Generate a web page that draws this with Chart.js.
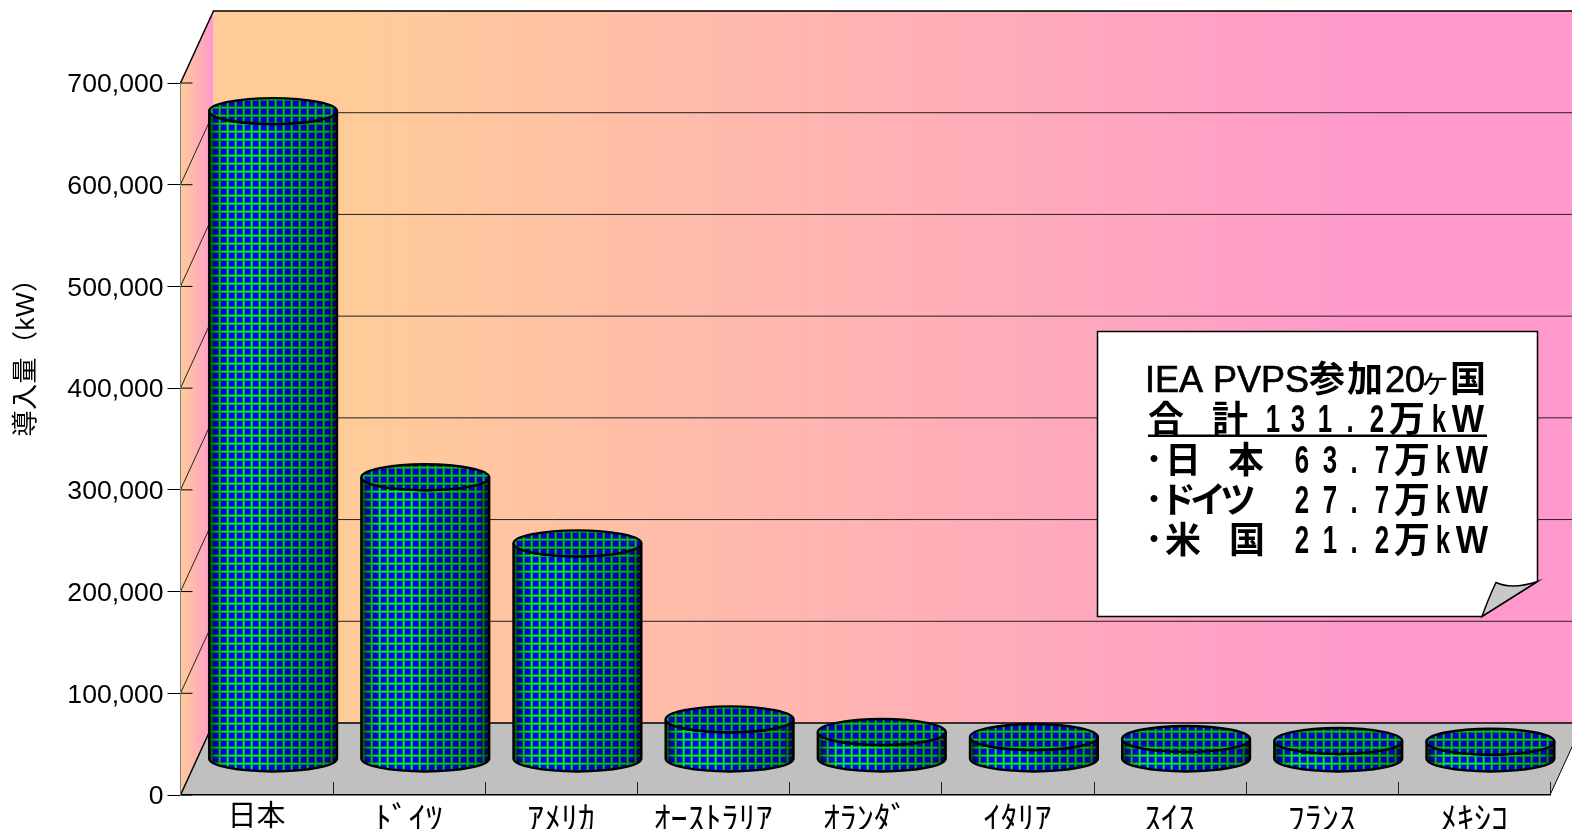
<!DOCTYPE html>
<html lang="ja">
<head>
<meta charset="utf-8">
<title>導入量</title>
<script src="https://cdn.jsdelivr.net/npm/chart.js@4"></script>
<style>
  html, body { margin: 0; padding: 0; background: #fff; overflow: hidden; }
  canvas { display: block; }
</style>
</head>
<body>
<canvas id="chart" width="1572" height="829"></canvas>
<script>
const categories = ['日本', 'ﾄﾞｲﾂ', 'ｱﾒﾘｶ', 'ｵｰｽﾄﾗﾘｱ', 'ｵﾗﾝﾀﾞ', 'ｲﾀﾘｱ', 'ｽｲｽ', 'ﾌﾗﾝｽ', 'ﾒｷｼｺ'];
const installed  = [637000, 277000, 212000, 39000, 26500, 21600, 19700, 17700, 17000];
const yTitle     = '導入量（kW）';
const noteTitle  = ['IEA PVPS', '参', '加', '20', 'ヶ', '国'];
const noteLines  = [
  ['合', '計', '1', '3', '1', '.', '2', '万', 'k', 'W'],
  ['･', '日', '本', '6', '3', '.', '7', '万', 'k', 'W'],
  ['･', 'ド', 'イ', 'ツ', '2', '7', '.', '7', '万', 'k', 'W'],
  ['･', '米', '国', '2', '1', '.', '2', '万', 'k', 'W'],
];

const SANS = "'Liberation Sans', 'Noto Sans CJK JP', sans-serif";
const CJK  = "'Noto Sans CJK JP', sans-serif";
const DEPTH_X = 33, DEPTH_Y = 72;   // offset of the back wall from the front axes

// ─── Weave fill for the cylinders ─────────────────────────────────
function weave(ctx) {
  const tile = document.createElement('canvas');
  tile.width = tile.height = 8;
  const t = tile.getContext('2d');
  t.fillStyle = '#0000ff';
  t.fillRect(0, 0, 8, 8);
  t.fillStyle = '#0060a0';
  t.fillRect(0, 2, 8, 1);
  t.fillRect(2, 0, 1, 8);
  t.fillStyle = '#00a040';
  t.fillRect(0, 4, 8, 1);
  t.fillRect(4, 0, 1, 8);
  t.fillStyle = '#00ff00';
  t.fillRect(0, 3, 8, 1);
  t.fillRect(3, 0, 1, 8);
  return ctx.createPattern(tile, 'repeat');
}

// ─── Back wall, side wall and floor ───────────────────────────────
const roomPlugin = {
  id: 'room',
  beforeDraw(chart) {
    const { ctx, chartArea: a, scales: { x, y } } = chart;
    const top = y.getPixelForValue(700000), bot = y.getPixelForValue(0);
    const wl = a.left + DEPTH_X, wr = a.right + DEPTH_X;

    const wall = ctx.createLinearGradient(wl, 0, wr, 0);
    wall.addColorStop(0.1, '#ffcc99');
    wall.addColorStop(0.85, '#ff99cc');
    ctx.fillStyle = wall;
    ctx.fillRect(wl, top - DEPTH_Y, wr - wl, bot - top);

    const side = ctx.createLinearGradient(a.left, 0, wl, 0);
    side.addColorStop(0, '#ffcc99');
    side.addColorStop(1, '#ff99cc');
    ctx.fillStyle = side;
    ctx.beginPath();
    ctx.moveTo(a.left, top);
    ctx.lineTo(wl, top - DEPTH_Y);
    ctx.lineTo(wl, bot - DEPTH_Y);
    ctx.lineTo(a.left, bot);
    ctx.closePath();
    ctx.fill();

    ctx.fillStyle = '#c0c0c0';
    ctx.beginPath();
    ctx.moveTo(a.left, bot);
    ctx.lineTo(wl, bot - DEPTH_Y);
    ctx.lineTo(wr, bot - DEPTH_Y);
    ctx.lineTo(a.right, bot);
    ctx.closePath();
    ctx.fill();

    y.ticks.forEach(t => {
      const py = y.getPixelForValue(t.value);
      const edge = t.value === 0 || t.value === 700000;
      ctx.lineWidth = edge ? 1.5 : 1;
      ctx.strokeStyle = edge ? '#000' : '#222';
      ctx.beginPath();
      ctx.moveTo(a.left, py);
      ctx.lineTo(wl, py - DEPTH_Y);
      ctx.lineTo(wr, py - DEPTH_Y);
      ctx.stroke();
      // inward part of the tick
      ctx.lineWidth = 1;
      ctx.strokeStyle = '#000';
      ctx.beginPath();
      ctx.moveTo(a.left, py);
      ctx.lineTo(a.left + 12, py);
      ctx.stroke();
    });

    // right end of the floor
    ctx.beginPath();
    ctx.moveTo(a.right, bot);
    ctx.lineTo(wr, bot - DEPTH_Y);
    ctx.stroke();

    // category separators stand up from the front axis
    const step = x.width / categories.length;
    ctx.strokeStyle = '#222';
    categories.forEach((c, i) => {
      const px = Math.round(x.getPixelForValue(i) + step / 2) + 0.5;
      ctx.beginPath();
      ctx.moveTo(px, bot);
      ctx.lineTo(px, bot - 13);
      ctx.stroke();
    });
  },
  // Liberation sits a little high against the ticks, so nudge the value labels
  afterLayout(chart) {
    const y = chart.scales.y;
    const drawLabels = y.drawLabels;
    y.drawLabels = function (area) {
      chart.ctx.save();
      chart.ctx.translate(0, 2);
      drawLabels.call(this, area);
      chart.ctx.restore();
    };
  },
};

// ─── Cylinders, placed from the bar elements ──────────────────────
const cylinderPlugin = {
  id: 'cylinders',
  afterDatasetsDraw(chart) {
    const { ctx } = chart;
    const fill = weave(ctx);
    chart.getDatasetMeta(0).data.forEach(bar => {
      const cx = bar.x + DEPTH_X / 2;
      const rx = bar.width / 2, ry = 13;
      const topY = bar.y - DEPTH_Y / 2;
      const botY = bar.base - DEPTH_Y / 2;

      ctx.save();
      ctx.beginPath();
      ctx.moveTo(cx - rx, topY);
      ctx.lineTo(cx - rx, botY);
      ctx.ellipse(cx, botY, rx, ry, 0, Math.PI, 0, true);
      ctx.lineTo(cx + rx, topY);
      ctx.ellipse(cx, topY, rx, ry, 0, 0, Math.PI, false);
      ctx.closePath();
      ctx.fillStyle = fill;
      ctx.fill();
      const shade = ctx.createLinearGradient(cx - rx, 0, cx + rx, 0);
      shade.addColorStop(0, 'rgba(0,0,0,0.75)');
      shade.addColorStop(0.05, 'rgba(0,0,0,0.3)');
      shade.addColorStop(0.14, 'rgba(0,0,0,0)');
      shade.addColorStop(0.4, 'rgba(0,0,0,0)');
      shade.addColorStop(0.62, 'rgba(0,0,0,0.2)');
      shade.addColorStop(0.92, 'rgba(0,0,0,0.3)');
      shade.addColorStop(1, 'rgba(0,0,0,0.75)');
      ctx.fillStyle = shade;
      ctx.fill();
      ctx.lineWidth = 2.4;
      ctx.strokeStyle = '#000';
      ctx.stroke();

      ctx.beginPath();
      ctx.ellipse(cx, topY, rx, ry, 0, 0, Math.PI * 2);
      ctx.fillStyle = fill;
      ctx.fill();
      ctx.fillStyle = 'rgba(0,0,0,0.2)';
      ctx.fill();
      ctx.stroke();
      ctx.restore();
    });
  },
};

// ─── Folded note and axis title ───────────────────────────────────
function glyph(ctx, text, cx, base, font, sx, heavy) {
  ctx.save();
  ctx.font = font;
  ctx.textAlign = 'center';
  ctx.textBaseline = 'alphabetic';
  ctx.translate(cx, base);
  ctx.scale(sx, 1);
  ctx.fillText(text, 0, 0);
  if (heavy) {
    ctx.lineWidth = heavy;
    ctx.strokeText(text, 0, 0);
  }
  ctx.restore();
}

const notePlugin = {
  id: 'note',
  afterDraw(chart) {
    const { ctx } = chart;
    ctx.save();

    // axis title sits above the middle of the axis, so it is placed by hand
    ctx.save();
    ctx.translate(27, 351);
    ctx.rotate(-Math.PI / 2);
    ctx.fillStyle = '#000';
    ctx.font = `26px ${SANS}`;
    ctx.letterSpacing = '0.5px';
    ctx.textAlign = 'center';
    ctx.textBaseline = 'middle';
    ctx.fillText(yTitle, 0, 0);
    ctx.restore();

    ctx.beginPath();
    ctx.moveTo(1097.5, 331.5);
    ctx.lineTo(1537.5, 331.5);
    ctx.lineTo(1537.5, 581.5);
    ctx.lineTo(1482, 616.5);
    ctx.lineTo(1097.5, 616.5);
    ctx.closePath();
    ctx.fillStyle = '#fff';
    ctx.fill();
    ctx.strokeStyle = '#000';
    ctx.lineWidth = 1.5;
    ctx.stroke();

    ctx.beginPath();
    ctx.moveTo(1482, 616.5);
    ctx.quadraticCurveTo(1489, 597, 1496, 582.5);
    ctx.quadraticCurveTo(1512, 590, 1537.5, 581.5);
    ctx.closePath();
    ctx.fillStyle = '#c8c8c8';
    ctx.fill();
    ctx.stroke();

    ctx.fillStyle = '#000';
    ctx.strokeStyle = '#000';
    const cjkBold = `700 36px ${CJK}`;
    const latin   = `36px ${SANS}`;
    const digit   = `700 38px ${SANS}`;

    // heading
    const titleX = [1227, 1327, 1365, 1405, 1435, 1468];
    noteTitle.forEach((s, i) => {
      const isLatin = i === 0 || i === 3;
      const font = isLatin ? latin : (i === 4 ? `400 32px ${CJK}` : cjkBold);
      glyph(ctx, s, titleX[i], 391.5, font, 1, isLatin ? 0.7 : 0);
    });

    const lineX = [
      [1166, 1230, 1273, 1298, 1325, 1350, 1377, 1407, 1439, 1468],
      [1154, 1183, 1246, 1302, 1330, 1354, 1382, 1412, 1443, 1472],
      [1154, 1178, 1208, 1238, 1302, 1330, 1354, 1382, 1412, 1443, 1472],
      [1154, 1183, 1247, 1302, 1330, 1354, 1382, 1412, 1443, 1472],
    ];
    const lineBase = [431.5, 473, 513, 553];
    noteLines.forEach((chars, r) => {
      chars.forEach((s, i) => {
        if (/[0-9.k]/.test(s)) glyph(ctx, s, lineX[r][i], lineBase[r], digit, 0.68);
        else if (s === 'W') glyph(ctx, s, lineX[r][i], lineBase[r], digit, 0.9);
        else glyph(ctx, s, lineX[r][i], lineBase[r], cjkBold, 1);
      });
    });

    ctx.fillRect(1148, 434.5, 339, 2.5);
    ctx.restore();
  },
};

// ─── Chart ────────────────────────────────────────────────────────
new Chart(document.getElementById('chart'), {
  type: 'bar',
  data: {
    labels: categories,
    datasets: [{
      data: installed,
      backgroundColor: 'transparent',
      borderWidth: 0,
      barPercentage: 0.84,
      categoryPercentage: 1,
    }],
  },
  plugins: [roomPlugin, cylinderPlugin, notePlugin],
  options: {
    responsive: false,
    animation: false,
    layout: { padding: { top: 83, right: 22, bottom: 0, left: 0 } },
    plugins: { legend: { display: false }, tooltip: { enabled: false } },
    scales: {
      x: {
        afterFit: s => { s.height = 34; },
        grid: { display: false, drawTicks: false },
        border: { color: '#000', width: 1.5 },
        ticks: {
          color: '#000',
          padding: 3,
          maxRotation: 0,
          autoSkip: false,
          font: c => ({ family: CJK, size: c.index === 0 ? 29 : 34, weight: 400 }),
        },
      },
      y: {
        min: 0,
        max: 700000,
        afterFit: s => { s.width = 180.5; },
        grid: { drawOnChartArea: false, color: '#000', tickLength: 13 },
        border: { color: '#808080', width: 1 },
        ticks: {
          stepSize: 100000,
          color: '#000',
          padding: 4,
          font: { family: SANS, size: 26.6 },
          callback: v => v.toLocaleString('en-US'),
        },
      },
    },
  },
});
</script>
</body>
</html>
